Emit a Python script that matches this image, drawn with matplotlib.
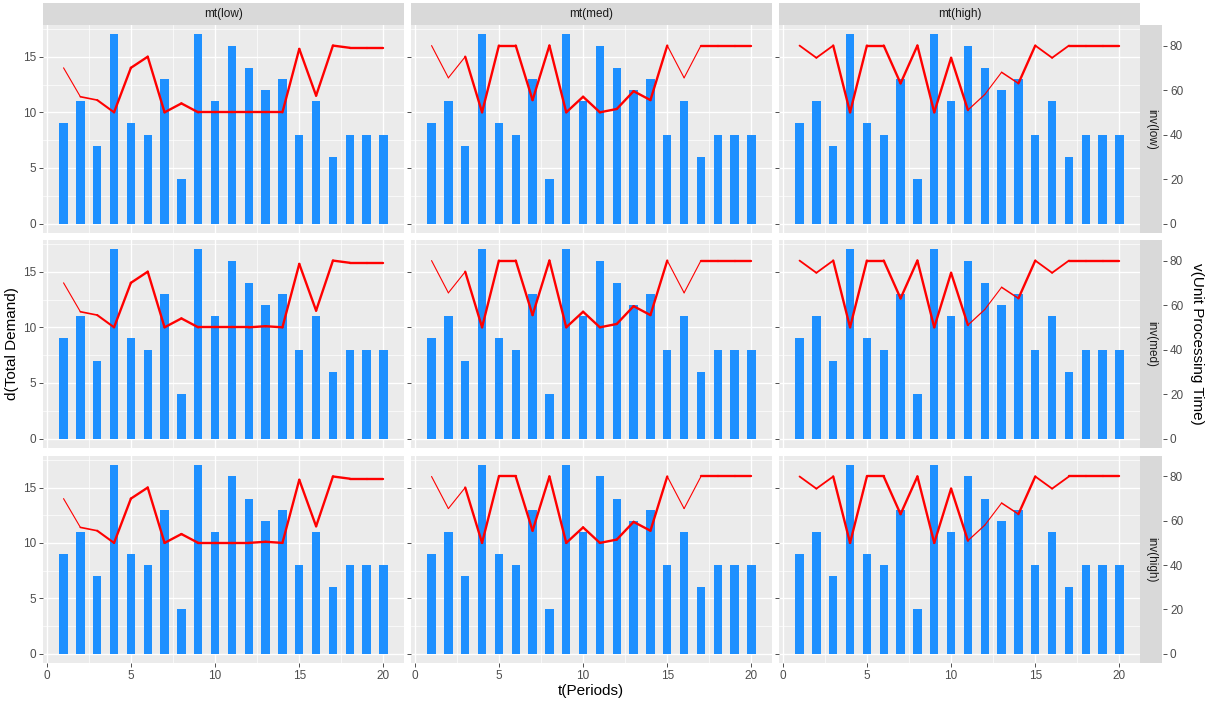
import numpy as np
import matplotlib.pyplot as plt
from matplotlib.collections import LineCollection

plt.rcParams['font.family'] = ['Liberation Sans', 'DejaVu Sans']

# data
t = list(range(1, 21))
demand = [9, 11, 7, 17, 9, 8, 13, 4, 17, 11, 16, 14, 12, 13, 8, 11, 6, 8, 8, 8]

v_mt_low = [70, 57, 55.5, 50, 70, 75, 50, 54, 50, 50, 50, 50, 50, 50, 78.5, 57.5, 80, 79, 79, 79]
v_mt_low_b = [70, 57, 55.5, 50, 70, 75, 50, 54, 50, 50, 50, 50, 50.5, 50, 78.5, 57.5, 80, 79, 79, 79]
v_mt_med = [80, 65.5, 75, 50, 80, 80, 55.5, 80, 50, 57, 50, 51.5, 59.5, 55.5, 80, 65.5, 80, 80, 80, 80]
v_mt_high = [80, 74.5, 80, 50, 80, 80, 63, 80, 50, 74.5, 51, 58, 68, 63, 80, 74.5, 80, 80, 80, 80]

mt_levels = ['low', 'med', 'high']
inv_levels = ['low', 'med', 'high']
v_data = {
    ('low', 'low'): v_mt_low, ('low', 'med'): v_mt_low_b, ('low', 'high'): v_mt_low_b,
    ('med', 'low'): v_mt_med, ('med', 'med'): v_mt_med, ('med', 'high'): v_mt_med,
    ('high', 'low'): v_mt_high, ('high', 'med'): v_mt_high, ('high', 'high'): v_mt_high,
}

# segment line widths (style)
lw_seg = {
    'low': [0.8, 1.2, 1.5] + [1.7] * 16,
    'med': [0.8, 0.8] + [1.7] * 12 + [0.8, 0.8] + [1.7] * 3,
    'high': [1.3, 1.3] + [1.7] * 8 + [0.9, 0.8, 1.1] + [1.7] + [1.3, 1.3] + [1.7] * 3,
}

W, H = 1207, 706
fig = plt.figure(figsize=(W / 100, H / 100), dpi=100)


def px(x0, y0, x1, y1):
    return [x0 / W, 1 - y1 / H, (x1 - x0) / W, (y1 - y0) / H]


cols_x = [(43, 404), (411, 772), (779, 1140)]
rows_y = [(25, 233), (240, 448), (456, 663)]
ylim = (-0.85, 17.85)
scale = 5

for i, inv in enumerate(inv_levels):
    for j, mt in enumerate(mt_levels):
        x0, x1 = cols_x[j]
        y0, y1 = rows_y[i]
        ax = fig.add_axes(px(x0, y0, x1, y1))
        ax.set_facecolor('#EBEBEB')
        for s in ax.spines.values():
            s.set_visible(False)
        ax.bar(t, demand, width=0.5, color='#1E90FF', zorder=2)
        ax.set_xlim(-0.22, 21.22)
        ax.set_ylim(*ylim)
        ax.set_xticks([0, 5, 10, 15, 20])
        ax.set_xticks([2.5, 7.5, 12.5, 17.5], minor=True)
        ax.set_yticks([0, 5, 10, 15])
        ax.set_yticks([2.5, 7.5, 12.5, 17.5], minor=True)
        ax.grid(which='major', color='white', lw=1.0, zorder=0)
        ax.grid(which='minor', color='white', lw=0.5, zorder=0)
        ax.set_axisbelow(True)
        ax.tick_params(which='minor', length=0)
        ax.tick_params(which='major', direction='out', length=3, width=0.6,
                       color='#333333', labelcolor='#4D4D4D', labelsize=8.5, pad=2)
        if i < 2:
            ax.tick_params(axis='x', bottom=False, labelbottom=False)
        if j > 0:
            ax.tick_params(axis='y', left=False, labelleft=False)

        ax2 = ax.twinx()
        for s in ax2.spines.values():
            s.set_visible(False)
        ax2.set_ylim(ylim[0] * scale, ylim[1] * scale)
        v = v_data[(mt, inv)]
        pts = np.column_stack([t, v])
        segs = np.stack([pts[:-1], pts[1:]], axis=1)
        lc = LineCollection(segs, colors='red', linewidths=lw_seg[mt],
                            capstyle='round', joinstyle='round', zorder=3)
        ax2.add_collection(lc)
        ax2.set_yticks([0, 20, 40, 60, 80])
        if j == 2:
            ax2.spines['right'].set_position(('outward', 23 * 72 / 100))
            ax2.tick_params(axis='y', direction='out', length=3, width=0.6,
                            color='#333333', labelcolor='#4D4D4D', labelsize=8.5, pad=2)
            # right strip
            sx = fig.add_axes(px(1140, y0, 1162, y1))
            sx.set_facecolor('#D9D9D9')
            sx.set_xticks([])
            sx.set_yticks([])
            for s in sx.spines.values():
                s.set_visible(False)
            sx.text(0.5, 0.5, 'inv(%s)' % inv, rotation=-90, ha='center', va='center',
                    fontsize=8.5, color='#1A1A1A', transform=sx.transAxes)
        else:
            ax2.tick_params(axis='y', right=False, labelright=False)

        if i == 0:
            st = fig.add_axes(px(x0, 3, x1, 25))
            st.set_facecolor('#D9D9D9')
            st.set_xticks([])
            st.set_yticks([])
            for s in st.spines.values():
                s.set_visible(False)
            st.text(0.5, 0.5, 'mt(%s)' % mt, ha='center', va='center',
                    fontsize=8.5, color='#1A1A1A', transform=st.transAxes)

fig.text(12 / W, 1 - 344 / H, 'd(Total Demand)', rotation=90, ha='center', va='center',
         fontsize=11, color='black')
fig.text(591 / W, 1 - 691 / H, 't(Periods)', ha='center', va='center',
         fontsize=11, color='black')
fig.text(1197 / W, 1 - 344 / H, 'v(Unit Processing Time)', rotation=-90, ha='center',
         va='center', fontsize=11, color='black')

fig.savefig('out.png', dpi=100, facecolor='white')
